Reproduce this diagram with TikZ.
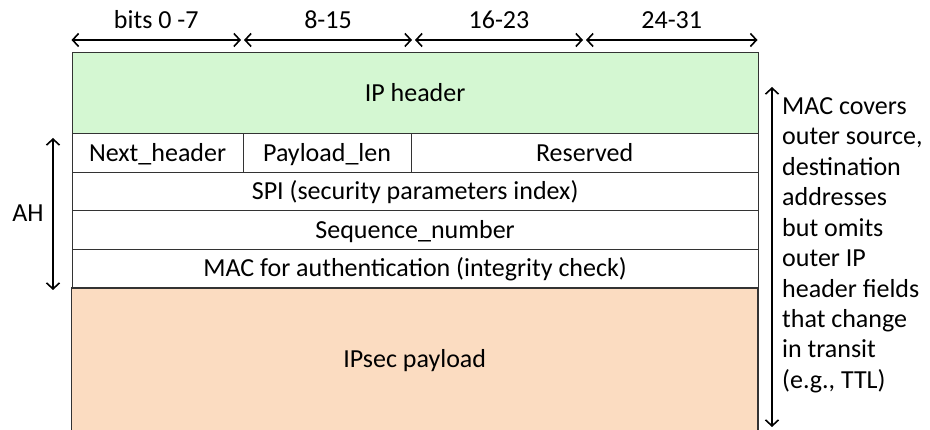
\documentclass[tikz,border=0pt]{standalone}
\usepackage{fontspec}
\setmainfont{Carlito}
\usetikzlibrary{positioning, arrows.meta}

\definecolor{iphdr}{RGB}{212,247,210}
\definecolor{ipsecpl}{RGB}{251,220,193}

\begin{document}
\begin{tikzpicture}[x=1pt, y=-1pt,
    field/.style={draw=black!80, line width=1.2pt, anchor=north west, inner sep=0pt, minimum height=38.6pt, text height=16.5pt, text depth=0pt},
    span/.style={{Straight Barb[length=6pt, width=13pt]}-{Straight Barb[length=6pt, width=13pt]}, line width=1.6pt},
    every node/.append style={font=\fontsize{26}{30.5}\selectfont}
]
    \useasboundingbox (0,0) rectangle (930,430);

    % Payload (open at the bottom)
    \node[fill=ipsecpl, anchor=north west, inner sep=0pt, minimum width=686pt, minimum height=145pt] (payload) at (71.5,287.4) {IPsec payload};
    \draw[black!80, line width=1.2pt] (payload.south west) -- (payload.north west);
    \draw[black!80, line width=1.2pt] (payload.south east) -- (payload.north east);

    % IP header
    \node[field, fill=iphdr, minimum width=686pt, minimum height=81pt] (iphead) at (71.5,52) {IP header};

    % AH fields
    \node[field, minimum width=171pt] (nexthdr) at (71.5,133) {Next\_header};
    \node[field, minimum width=168pt] (paylen) at (242.5,133) {Payload\_len};
    \node[field, minimum width=347pt] (resv) at (410.5,133) {Reserved};
    \node[field, minimum width=686pt] (spi) at (71.5,171.6) {SPI (security parameters index)};
    \node[field, minimum width=686pt] (seqnum) at (71.5,210.2) {Sequence\_number};
    \node[field, minimum width=686pt] (mac) at (71.5,248.8) {MAC for authentication (integrity check)};

    % Bit ranges
    \coordinate (b0l) at (71.5,40);  \coordinate (b0r) at (241,40);
    \coordinate (b1l) at (244,40);   \coordinate (b1r) at (412,40);
    \coordinate (b2l) at (415,40);   \coordinate (b2r) at (583,40);
    \coordinate (b3l) at (586,40);   \coordinate (b3r) at (757.5,40);
    \draw[span] (b0l) -- (b0r) node[midway, above=7pt] (bits0) {bits 0 -7};
    \draw[span] (b1l) -- (b1r) node[midway, above=7pt] (bits1) {8-15};
    \draw[span] (b2l) -- (b2r) node[midway, above=7pt] (bits2) {16-23};
    \draw[span] (b3l) -- (b3r) node[midway, above=7pt] (bits3) {24-31};

    % AH extent
    \coordinate (ahtop) at (53,138);
    \coordinate (ahbot) at (53,290);
    \draw[span] (ahtop) -- (ahbot);
    \node (ah) at (28,213) {AH};

    % MAC coverage
    \coordinate (covtop) at (772,87);
    \coordinate (covbot) at (772,427);
    \draw[span] (covtop) -- (covbot);
    \node[anchor=base west, align=left, inner sep=0pt] (cover) at (782,388.5)
        {MAC covers\\outer source,\\destination\\addresses\\but omits\\outer IP\\header fields\\that change\\in transit\\(e.g., TTL)};

\end{tikzpicture}
\end{document}
